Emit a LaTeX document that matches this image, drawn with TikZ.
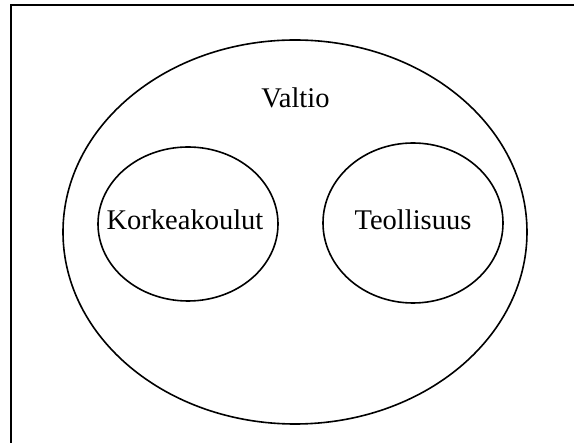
\documentclass[tikz,border=0pt]{standalone}
\usepackage{fontspec}
\setmainfont{Liberation Serif}
\usetikzlibrary{shapes.geometric}
\begin{document}
\begin{tikzpicture}[x=1pt,y=-1pt,
  ring/.style={draw=black,line width=1.6pt,ellipse,inner sep=0pt},
  lbl/.style={font=\fontsize{28.5}{32}\selectfont,inner sep=0pt,anchor=base}]
\useasboundingbox (0,0) rectangle (574,443);
\draw[line width=2.3pt,line cap=rect] (11,443) -- (11,5) -- (574,5);
\node[ring,minimum width=464pt,minimum height=384pt] (valtio) at (295,232) {};
\node[ring,minimum width=180pt,minimum height=154pt] (korkea) at (188,224) {};
\node[ring,minimum width=180pt,minimum height=160pt] (teoll) at (413,223) {};
\node[lbl] (tv) at (295.5,108) {Valtio};
\node[lbl] (tk) at (185,230) {Korkeakoulut};
\node[lbl] (tt) at (413,230) {Teollisuus};
\end{tikzpicture}
\end{document}
